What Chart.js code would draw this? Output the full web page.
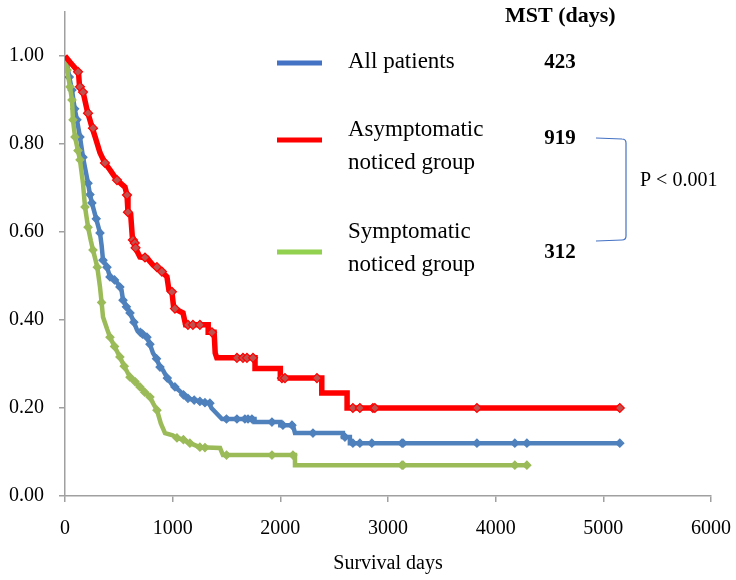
<!DOCTYPE html>
<html><head><meta charset="utf-8">
<script src="https://cdn.jsdelivr.net/npm/chart.js@4.4.1/dist/chart.umd.min.js"></script>
<style>html,body{margin:0;padding:0;background:#fff}canvas{display:block}</style>
</head><body>
<canvas id="c" width="736" height="580"></canvas>
<script>
// ---- data ----
const xTicks = [0, 1000, 2000, 3000, 4000, 5000, 6000];
const yTicks = [0, 0.2, 0.4, 0.6, 0.8, 1.0];
const xTitle = 'Survival days';
const seriesNames = [['All patients'], ['Asymptomatic', 'noticed group'], ['Symptomatic', 'noticed group']];
const mstHeader = 'MST (days)';
const mstValues = ['423', '919', '312'];
const pText = 'P < 0.001';

// All patients: survival curve
const allDays = [0,20,40,65,90,111,139,167,214,232,250,290,325,340,353,390,418,470,510,525,539,604,640,669,720,761,789,817,850,882,910,950,1003,1060,1133,1250,1340,1360,1458,1760,1760,2000,2000,2117,2136,2581,2581,2646,2646,5160];
const allSurv = [1.0,0.98,0.952,0.923,0.88,0.855,0.816,0.77,0.711,0.685,0.666,0.63,0.598,0.57,0.536,0.52,0.498,0.49,0.475,0.468,0.445,0.416,0.395,0.377,0.368,0.361,0.345,0.325,0.312,0.293,0.286,0.268,0.25,0.24,0.222,0.215,0.211,0.2,0.175,0.175,0.168,0.168,0.161,0.161,0.143,0.143,0.134,0.134,0.12,0.12];
const allCensDays = [40,65,90,111,139,167,214,232,250,290,325,353,390,418,460,510,539,570,604,640,700,720,761,789,850,882,950,1021,1100,1142,1200,1253,1300,1346,1500,1597,1671,1700,1736,1922,2024,2108,2303,2600,2674,2739,2850,3130,3140,3826,4178,4290,5153];
const allCensSurv = [0.952,0.923,0.88,0.855,0.816,0.77,0.711,0.685,0.666,0.63,0.598,0.536,0.52,0.498,0.491,0.475,0.445,0.43,0.416,0.395,0.372,0.368,0.361,0.345,0.312,0.293,0.268,0.248,0.23,0.222,0.218,0.215,0.212,0.211,0.175,0.175,0.175,0.175,0.175,0.168,0.161,0.161,0.143,0.134,0.12,0.12,0.12,0.12,0.12,0.12,0.12,0.12,0.12];

// Asymptomatic noticed group
const asyDays = [0,50,125,135,170,205,250,280,325,370,418,483,557,576,585,610,625,631,650,696,761,817,882,947,965,993,1010,1096,1120,1330,1330,1385,1395,1410,1765,1765,2000,2000,2385,2385,2620,2620,5160];
const asySurv = [1.0,0.985,0.964,0.93,0.916,0.877,0.839,0.816,0.78,0.757,0.741,0.718,0.702,0.684,0.645,0.64,0.59,0.582,0.566,0.543,0.541,0.525,0.514,0.498,0.468,0.464,0.427,0.416,0.389,0.389,0.372,0.372,0.325,0.314,0.314,0.29,0.29,0.268,0.268,0.234,0.234,0.20,0.20];
const asyCensDays = [121,139,167,214,260,371,483,576,585,631,648,655,743,854,900,993,1021,1142,1188,1253,1365,1597,1653,1690,1746,2015,2043,2340,2674,2739,2860,2878,3826,5153];
const asyCensSurv = [0.964,0.93,0.918,0.87,0.836,0.757,0.718,0.684,0.645,0.582,0.575,0.564,0.542,0.52,0.51,0.464,0.426,0.389,0.389,0.389,0.372,0.314,0.314,0.314,0.314,0.268,0.268,0.268,0.20,0.20,0.20,0.20,0.20,0.20];

// Symptomatic noticed group
const symDays = [0,20,46,65,74,93,120,139,167,186,214,240,260,300,325,340,353,390,418,460,510,550,604,650,696,740,789,820,854,890,929,1000,1040,1100,1160,1253,1440,1467,2136,2136,4290];
const symSurv = [1.0,0.968,0.93,0.90,0.855,0.816,0.785,0.764,0.711,0.657,0.611,0.58,0.559,0.52,0.475,0.44,0.407,0.38,0.361,0.34,0.316,0.295,0.27,0.26,0.248,0.236,0.225,0.21,0.195,0.165,0.143,0.138,0.132,0.128,0.12,0.111,0.109,0.093,0.093,0.07,0.07];
const symCensDays = [20,46,65,74,93,120,139,186,214,260,300,340,418,460,510,550,604,650,696,740,789,854,1040,1100,1160,1253,1300,1500,1922,2117,3130,3140,4178,4290];
const symCensSurv = [0.968,0.93,0.90,0.855,0.816,0.785,0.764,0.657,0.611,0.559,0.52,0.44,0.361,0.34,0.316,0.295,0.27,0.26,0.248,0.236,0.225,0.195,0.132,0.128,0.12,0.111,0.11,0.093,0.093,0.093,0.07,0.07,0.07,0.07];

// ---- build ----
const pts = (xs, ys) => xs.map((x, i) => ({x: x, y: ys[i]}));
const FONT = '"Liberation Serif", "Times New Roman", serif';

function lineDs(xs, ys, color, w, order) {
  return {data: pts(xs, ys), showLine: true, borderColor: color, borderWidth: w,
    pointRadius: 0, pointHoverRadius: 0, fill: false, order: order, borderJoinStyle: 'miter', tension: 0};
}
function censDs(xs, ys, fill, border, r, order) {
  return {data: pts(xs, ys), showLine: false, pointStyle: 'rectRot', pointRadius: r,
    backgroundColor: fill, borderColor: border, borderWidth: 1.2, order: order};
}

const legendPlugin = {
  id: 'customLegend',
  afterDraw(chart) {
    const ctx = chart.ctx;
    ctx.save();
    const lineCols = ['#4472c4', '#ff0000', '#92d050'];
    const lineYs = [63, 140, 252];
    ctx.lineWidth = 5;
    lineCols.forEach((c, i) => {
      ctx.strokeStyle = c;
      ctx.beginPath(); ctx.moveTo(277, lineYs[i]); ctx.lineTo(322, lineYs[i]); ctx.stroke();
    });
    ctx.fillStyle = '#000';
    ctx.textBaseline = 'middle';
    ctx.textAlign = 'left';
    ctx.font = '23px ' + FONT;
    const textYs = [[62], [130, 163], [232, 265]];
    seriesNames.forEach((lines, i) => {
      lines.forEach((t, j) => ctx.fillText(t, 348, textYs[i][j]));
    });
    ctx.font = 'bold 22px ' + FONT;
    ctx.fillText(mstHeader, 505, 16);
    ctx.textAlign = 'center';
    const mstYs = [63, 139, 253];
    ctx.font = 'bold 21px ' + FONT;
    mstValues.forEach((v, i) => ctx.fillText(v, 560, mstYs[i]));
    ctx.strokeStyle = '#4472c4';
    ctx.lineWidth = 1.2;
    ctx.beginPath();
    ctx.moveTo(596, 138); ctx.lineTo(622, 139);
    ctx.quadraticCurveTo(626, 139, 626, 143);
    ctx.lineTo(626, 236);
    ctx.quadraticCurveTo(626, 240, 622, 240);
    ctx.lineTo(596, 241);
    ctx.stroke();
    ctx.textAlign = 'left';
    ctx.font = '20px ' + FONT;
    ctx.fillText(pText, 640, 181);
    ctx.restore();
  }
};

const axisColor = '#a0a0a0';
new Chart(document.getElementById('c'), {
  type: 'scatter',
  data: {
    datasets: [
      censDs(asyCensDays, asyCensSurv, '#c0504d', '#ff0000', 4.5, 0),
      lineDs(asyDays, asySurv, '#ff0000', 5.5, 1),
      censDs(symCensDays, symCensSurv, '#9bbb59', '#9bbb59', 4, 2),
      lineDs(symDays, symSurv, '#9bbb59', 4.5, 3),
      censDs(allCensDays, allCensSurv, '#4f81bd', '#4f81bd', 4, 4),
      lineDs(allDays, allSurv, '#4f81bd', 4.5, 5)
    ]
  },
  options: {
    responsive: false,
    animation: false,
    devicePixelRatio: 1,
    layout: {padding: {top: 12, right: 25, left: 0, bottom: 0}},
    plugins: {legend: {display: false}, tooltip: {enabled: false}},
    scales: {
      x: {
        type: 'linear', min: 0, max: 6000,
        afterBuildTicks: s => { s.ticks = xTicks.map(v => ({value: v})); },
        afterFit: s => { s.height = 84; s.paddingLeft = 0; s.paddingRight = 0; },
        grid: {display: true, drawOnChartArea: false, drawTicks: true, tickLength: 6, color: axisColor, lineWidth: 1.5},
        border: {display: true, color: axisColor, width: 1.5},
        ticks: {color: '#000', font: {family: FONT, size: 20}, padding: 15, maxRotation: 0, autoSkip: false, callback: v => String(v)},
        title: {display: true, text: xTitle, color: '#000', font: {family: FONT, size: 20}, padding: {top: 0, bottom: 4}}
      },
      y: {
        type: 'linear', min: 0, max: 1.1,
        afterBuildTicks: s => { s.ticks = yTicks.map(v => ({value: v})); },
        afterFit: s => { s.width = 65; s.paddingTop = 0; s.paddingBottom = 0; },
        grid: {display: true, drawOnChartArea: false, drawTicks: true, tickLength: 6, color: axisColor, lineWidth: 1.5},
        border: {display: true, color: axisColor, width: 1.5},
        ticks: {color: '#000', font: {family: FONT, size: 20}, padding: 15, callback: v => v.toFixed(2)}
      }
    }
  },
  plugins: [legendPlugin]
});
</script>
</body></html>
